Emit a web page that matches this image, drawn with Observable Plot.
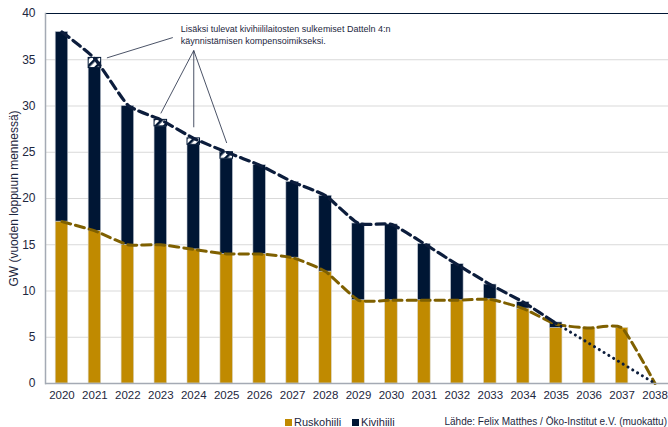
<!DOCTYPE html>
<html><head><meta charset="utf-8">
<script src="https://cdn.jsdelivr.net/npm/d3@7"></script>
<script src="https://cdn.jsdelivr.net/npm/@observablehq/plot@0.6"></script>
<style>
body{margin:0;background:#fff;font-family:"Liberation Sans",Arial,sans-serif;}
#wrap{position:relative;width:668px;height:427px;overflow:hidden;background:#fff;}
#chart{position:absolute;left:0;top:0;}
#legend{position:absolute;left:285px;top:414px;height:16px;line-height:16px;font-size:11px;color:#1d2740;display:flex;align-items:center;white-space:nowrap;}
#legend .item{display:flex;align-items:center;margin-right:11px;}
#legend .sw{width:7px;height:7px;margin-right:2px;display:inline-block;}
#source{position:absolute;right:1px;top:414px;height:16px;line-height:16px;font-size:10px;color:#1d2740;white-space:nowrap;}
</style></head>
<body><div id="wrap"><div id="chart"></div><div id="legend"></div><div id="source"></div></div>
<script>
// ---- data ----
const years = [2020,2021,2022,2023,2024,2025,2026,2027,2028,2029,2030,2031,2032,2033,2034,2035,2036,2037,2038];
const ruskohiili = [17.5,16.5,15,15,14.5,14,14,13.6,12.1,9,9,9,9,9.1,8.1,6,6,6,0];
const kivihiili  = [20.5,17.6,15,12.8,11.3,10.3,9.6,8.2,8.2,8.3,8.2,6.1,3.9,1.6,0.7,0.6,0,0,0];
const datteln    = [0,1.1,0,0.7,0.7,0.7,0,0,0,0,0,0,0,0,0,0,0,0,0];
const totalLineYears = [2020,2021,2022,2023,2024,2025,2026,2027,2028,2029,2030,2031,2032,2033,2034,2035];
const totalLine = [38,35.1,30.1,28.5,26.5,25,23.6,21.8,20.3,17.3,17.2,15.1,12.85,10.7,8.8,6.5];
const totalTailYears = [2035,2038];
const totalTail = [6.5,0];
const lignLine = [17.5,16.5,15,15,14.5,14,14,13.6,12.1,9,9,9,9,9.1,8.1,6.4,6,6,0];
const yTicks = [0,5,10,15,20,25,30,35,40];
const seriesNames = ["Ruskohiili","Kivihiili"];
const yLabel = "GW (vuoden loppuun mennessä)";
const sourceText = "Lähde: Felix Matthes / Öko-Institut e.V. (muokattu)";
const noteText = "Lisäksi tulevat kivihiililaitosten sulkemiset Datteln 4:n\nkäynnistämisen kompensoimikseksi.";
const noteAnchor = {year:2023, value:37.75};
const pointerMain = [{x1:2021, y1:35.2, x2:2023, y2:37.4}];
const pointerApex = {year:2024, value:36};
const pointerTargets = [{year:2023, value:29.2},{year:2024, value:27.7},{year:2025, value:26.0}];

// ---- styles ----
const gold = "#C08A00", navy = "#001634", goldLine = "#7F6000", navyLine = "#0c1d3c";
const fillOf = {Ruskohiili:gold, Kivihiili:navy, Datteln:"url(#datteln-hatch)"};
const strokeOf = {Ruskohiili:"#d8d2c0", Kivihiili:"#c4cad4", Datteln:navy};

const rows = [];
years.forEach((y,i)=>{
  if (ruskohiili[i] > 0) rows.push({year:y, type:"Ruskohiili", value:ruskohiili[i]});
  if (kivihiili[i] > 0) rows.push({year:y, type:"Kivihiili", value:kivihiili[i]});
  if (datteln[i] > 0) rows.push({year:y, type:"Datteln", value:datteln[i]});
});
const totalData = totalLineYears.map((y,i)=>({year:y, value:totalLine[i]}));
const tailData = totalTailYears.map((y,i)=>({year:y, value:totalTail[i]}));
const lignData = years.map((y,i)=>({year:y, value:lignLine[i]}));
const apexLinks = pointerTargets.map(t=>({x1:pointerApex.year, y1:pointerApex.value, x2:t.year, y2:t.value}));

const svg = Plot.plot({
  width:668, height:410, marginTop:13, marginBottom:27, marginLeft:45, marginRight:-3,
  style:{fontFamily:"'Liberation Sans', Arial, sans-serif", color:"#1d2740", background:"transparent", overflow:"visible"},
  x:{type:"band", domain:years, paddingInner:0.62, paddingOuter:0.31, round:false, label:null},
  y:{domain:[0,40], label:null},
  color:{type:"identity"},
  marks:[
    Plot.ruleY(yTicks.filter(t=>t>0 && t<40), {stroke:"#d9d9d9", strokeWidth:1}),
    Plot.barY(rows, Plot.stackY({x:"year", y:"value", z:"type",
      fill:d=>fillOf[d.type], stroke:d=>strokeOf[d.type], strokeWidth:d=>d.type==="Datteln"?1:0.6})),
    Plot.line(lignData, {x:"year", y:"value", curve:"cardinal", tension:0.5, stroke:goldLine, strokeWidth:3, strokeDasharray:"9,5"}),
    Plot.line(totalData, {x:"year", y:"value", curve:"cardinal", tension:0.5, stroke:navyLine, strokeWidth:3.2, strokeDasharray:"9,5"}),
    Plot.line(tailData, {x:"year", y:"value", stroke:navyLine, strokeWidth:3, strokeDasharray:"0.1,5.5", strokeLinecap:"round"}),
    Plot.link(pointerMain, {x1:"x1", y1:"y1", x2:"x2", y2:"y2", dx:12, stroke:"#1d2740", strokeWidth:0.8}),
    Plot.link(apexLinks, {x1:"x1", y1:"y1", x2:"x2", y2:"y2", stroke:"#1d2740", strokeWidth:0.8}),
    Plot.text([noteAnchor], {x:"year", y:"value", text:()=>noteText, dx:20, textAnchor:"start", lineAnchor:"middle", fontSize:9, lineHeight:1.25, fill:"#1d2740"}),
    Plot.ruleY([40], {stroke:navy, strokeWidth:1}),
    Plot.ruleY([0], {stroke:"#a4aab4", strokeWidth:1.5}),
    Plot.frame({anchor:"left", stroke:"#a4aab4", strokeWidth:1.5}),
    Plot.axisY({ticks:yTicks, tickSize:0, tickPadding:10, fontSize:12, label:yLabel, labelAnchor:"center", labelOffset:36, labelArrow:"none"}),
    Plot.axisX({tickSize:0, tickPadding:7, fontSize:11.5, tickFormat:d=>String(d), label:null})
  ]
});
const ns = "http://www.w3.org/2000/svg";
const defs = document.createElementNS(ns, "defs");
defs.innerHTML = `<pattern id="datteln-hatch" patternUnits="userSpaceOnUse" width="6" height="6" patternTransform="rotate(45)"><rect width="6" height="6" fill="#fff"/><rect width="2.6" height="6" fill="${navy}"/></pattern>`;
svg.insertBefore(defs, svg.firstChild);
document.getElementById("chart").appendChild(svg);

const legend = document.getElementById("legend");
const legendColors = [gold, navy];
seriesNames.forEach((name,i)=>{
  const it = document.createElement("span"); it.className="item";
  const sw = document.createElement("span"); sw.className="sw"; sw.style.background=legendColors[i];
  it.appendChild(sw); it.appendChild(document.createTextNode(name));
  legend.appendChild(it);
});
document.getElementById("source").textContent = sourceText;
</script></body></html>
